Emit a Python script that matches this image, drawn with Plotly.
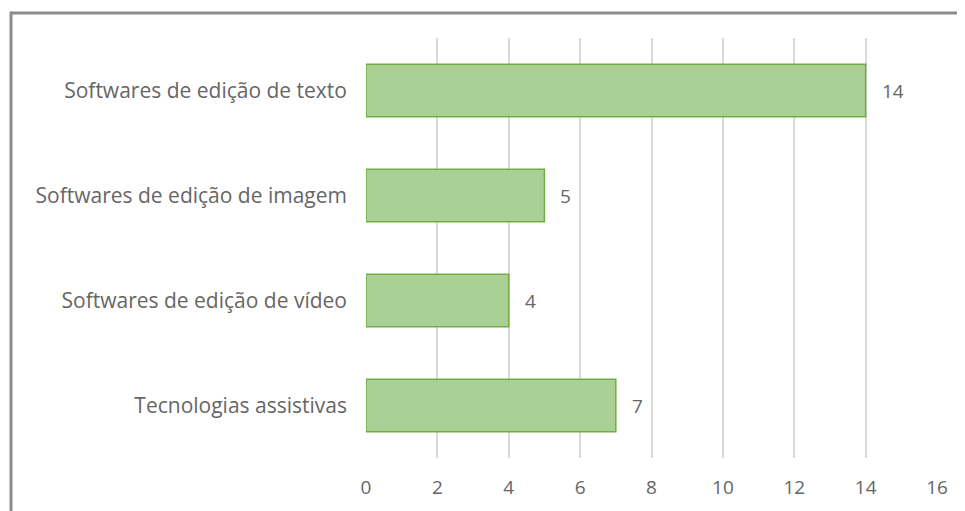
import plotly.graph_objects as go

# categories listed top to bottom as in the chart
categories = ['Softwares de edição de texto',
              'Softwares de edição de imagem',
              'Softwares de edição de vídeo',
              'Tecnologias assistivas']
values = [14, 5, 4, 7]
x_ticks = list(range(0, 17, 2))

# page has an 8px body margin, so the figure is a bit smaller than the window
W, H = 957, 503
L, R, T, B = 358, 28, 30, 53
pw, ph = W - L - R, H - T - B

bars = go.Bar(
    y=categories,
    x=values,
    orientation='h',
    width=0.5,
    marker=dict(color='#aad095', line=dict(color='#70ad47', width=1.5)),
    hoverinfo='x+y',
)

labels = [dict(x=v, y=c, text=str(v), showarrow=False, xanchor='left',
               xshift=14, font=dict(size=19, color='#666666'))
          for c, v in zip(categories, values)]

# outer chart frame (the right / bottom edges are cropped in the original)
fx = (3 - L) / pw
fy = 1 + (T - 5) / ph
frame = [
    dict(type='line', xref='paper', yref='paper',
         x0=fx, x1=1.2, y0=fy, y1=fy,
         line=dict(color='#8c8c8c', width=3)),
    dict(type='line', xref='paper', yref='paper',
         x0=fx, x1=fx, y0=fy + 1.5 / ph, y1=-0.3,
         line=dict(color='#8c8c8c', width=3)),
]

layout = go.Layout(
    width=W, height=H,
    margin=dict(l=L, r=R, t=T, b=B),
    plot_bgcolor='white', paper_bgcolor='white',
    font=dict(family='Open Sans', size=19, color='#666666'),
    showlegend=False,
    xaxis=dict(range=[0, 16], tickvals=x_ticks, showgrid=True,
               gridcolor='#d9d9d9', gridwidth=1.5, zeroline=False,
               showline=False, ticks='', tickfont=dict(size=19),
               ticklabelstandoff=16),
    yaxis=dict(categoryorder='array', categoryarray=categories[::-1],
               showgrid=False, zeroline=False, showline=False, ticks='',
               ticklabelstandoff=18, tickfont=dict(size=21)),
    annotations=labels,
    shapes=frame,
)

fig = go.Figure(data=[bars], layout=layout)
fig.write_html("out.html")
